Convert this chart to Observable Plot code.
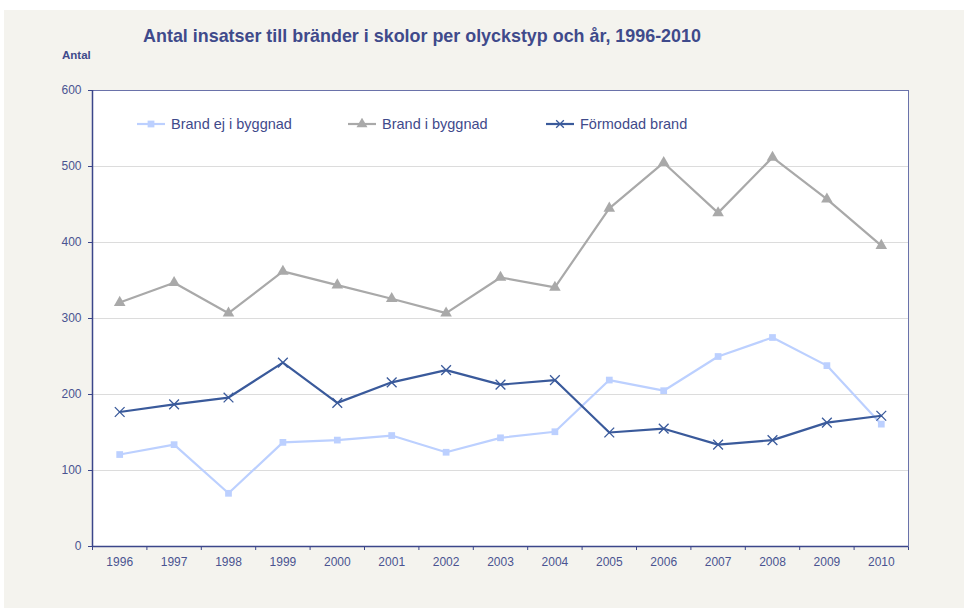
<!DOCTYPE html>
<html><head><meta charset="utf-8">
<script src="https://cdn.jsdelivr.net/npm/d3@7"></script>
<script src="https://cdn.jsdelivr.net/npm/@observablehq/plot@0.6"></script>
<style>
body{margin:0;background:#fff;width:964px;height:608px;overflow:hidden;position:relative;font-family:Arial,"Liberation Sans",sans-serif;}
#bg{position:absolute;left:4px;top:10px;width:960px;height:598px;background:#f4f3ee;}
#title{position:absolute;left:422px;top:27.5px;transform:translateX(-50%);white-space:nowrap;font-weight:bold;font-size:17.9px;line-height:1;color:#3f4a8b;}
#ylab{position:absolute;left:62px;top:50px;font-weight:bold;font-size:11.5px;line-height:1;color:#3f4a8b;}
.leg{position:absolute;top:115px;height:18px;display:flex;align-items:center;font-size:14.5px;color:#3f4a8b;white-space:nowrap}
.leg svg{margin-right:6px}
</style></head><body>
<div id="bg"><div id="chart"></div></div>
<div id="title">Antal insatser till bränder i skolor per olyckstyp och år, 1996-2010</div>
<div id="ylab">Antal</div>
<script>
const years = [1996,1997,1998,1999,2000,2001,2002,2003,2004,2005,2006,2007,2008,2009,2010];
const brandEjIByggnad = [121,134,70,137,140,146,124,143,151,219,205,250,275,238,161];
const brandIByggnad  = [321,347,307,362,344,326,307,354,341,445,505,439,512,457,396];
const formodadBrand  = [177,187,196,242,189,216,232,213,219,150,155,134,140,163,172];
const yTicks = [0,100,200,300,400,500,600];
const seriesNames = ["Brand ej i byggnad","Brand i byggnad","Förmodad brand"];
const seriesColors = ["#bcd0ff","#a9a9a9","#3a5a9b"];
const seriesSymbols = ["square","triangle","times"];
const legendLeft = [137,348,546];

const seriesValues = [brandEjIByggnad, brandIByggnad, formodadBrand];
const boundaries = years.map(y => y - 0.5).concat([years[years.length-1] + 0.5]);

const marks = [
  Plot.frame({fill:"white"}),
  Plot.ruleY(yTicks.filter(t => t > 0 && t < 600), {stroke:"#dcdcdc"}),
  Plot.axisY({ticks:yTicks, tickSize:4, tickPadding:7, label:null, stroke:"#3b468a", fontSize:12}),
  Plot.axisX({ticks:boundaries, tickSize:4, tickFormat:() => "", label:null, stroke:"#3b468a"}),
  Plot.axisX({ticks:years, tickSize:0, tickPadding:11, tickFormat:d => String(d), label:null, fontSize:12}),
];
seriesValues.forEach((vals, k) => {
  const data = years.map((year, i) => ({year, value: vals[i]}));
  marks.push(Plot.line(data, {x:"year", y:"value", stroke:seriesColors[k], strokeWidth:2.2}));
  if (seriesSymbols[k] === "times") {
    marks.push(Plot.dot(data, {x:"year", y:"value", symbol:"times", stroke:seriesColors[k], strokeWidth:1.3, r:4.5}));
  } else {
    marks.push(Plot.dot(data, {x:"year", y:"value", symbol:seriesSymbols[k], fill:seriesColors[k], stroke:"none", r: k === 0 ? 3.8 : 4.3}));
  }
});
marks.push(Plot.frame({stroke:"#6a72aa"}));
marks.push(Plot.ruleX([years[0] - 0.5], {stroke:"#3b468a", strokeWidth:1.5}));
marks.push(Plot.ruleY([0], {stroke:"#3b468a", strokeWidth:1.5}));

const chart = Plot.plot({
  width:960, height:598,
  marginLeft:88, marginRight:56, marginTop:80, marginBottom:62,
  style:{background:"transparent", fontFamily:"Arial, 'Liberation Sans', sans-serif", fontSize:"12px", color:"#4a5391"},
  x:{type:"linear", domain:[years[0]-0.5, years[years.length-1]+0.5]},
  y:{domain:[0,600]},
  marks
});
document.getElementById("chart").appendChild(chart);

// legend
const symPath = {square: d3.symbol(d3.symbolSquare, 46)(), triangle: d3.symbol(d3.symbolTriangle, 52)(), times: d3.symbol(d3.symbolTimes, 40)()};
seriesNames.forEach((name, k) => {
  const div = document.createElement("div");
  div.className = "leg";
  div.style.left = legendLeft[k] + "px";
  const c = seriesColors[k];
  const marker = seriesSymbols[k] === "times"
    ? `<path d="${symPath.times}" transform="translate(14,6)" stroke="${c}" stroke-width="1.3" fill="none"/>`
    : `<path d="${symPath[seriesSymbols[k]]}" transform="translate(14,6)" fill="${c}"/>`;
  div.innerHTML = `<svg width="28" height="12"><line x1="0" x2="28" y1="6" y2="6" stroke="${c}" stroke-width="2.2"/>${marker}</svg><span>${name}</span>`;
  document.body.appendChild(div);
});
</script>
</body></html>
